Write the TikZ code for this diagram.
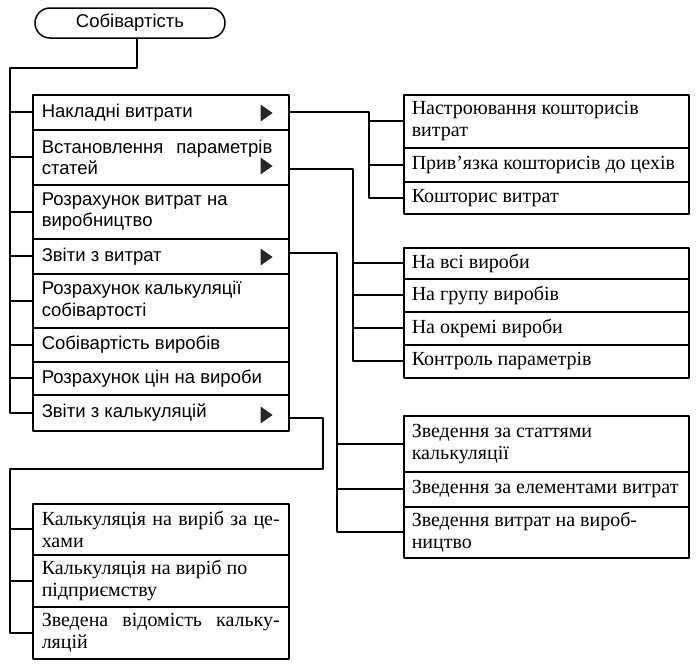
\documentclass[tikz,border=0pt]{standalone}
\usepackage{fontspec}
\setmainfont{Liberation Serif}
\setsansfont{Liberation Sans}
\usepackage{tikz}
\usetikzlibrary{shapes.geometric}

\begin{document}
\begin{tikzpicture}[line cap=round,line join=round,x=1pt,y=-1pt,
  box/.style={draw,line width=1.5pt,anchor=north west,inner xsep=9pt,inner ysep=0pt,align=justify},
  lbox/.style={box,text width=238pt,font=\sffamily\fontsize{18.5}{21.5}\selectfont},
  dbox/.style={box,text width=238pt,font=\fontsize{20}{22}\selectfont},
  rbox/.style={box,inner xsep=8pt,text width=269pt,font=\fontsize{20}{22}\selectfont},
  link/.style={line width=1.6pt},
  tri/.style={isosceles triangle,isosceles triangle apex angle=70,fill=black!85,inner sep=0pt,minimum height=12pt}]
\useasboundingbox (0,0) rectangle (699,667);
% top
\node[draw,line width=1.5pt,rounded corners=15pt,minimum width=190pt,minimum height=30pt,font=\sffamily\fontsize{18.5}{21.5}\selectfont] (T) at (130,23) {Собівартість};
% left menu
\node[lbox,minimum height=35pt] (L1) at (32,94) {Накладні витрати};
\node[lbox,minimum height=55pt] (L2) at (32,129) {Встановлення\hspace{8pt} параметрів\newline статей};
\node[lbox,minimum height=54pt] (L3) at (32,184) {Розрахунок витрат на\newline виробництво};
\node[lbox,minimum height=35pt] (L4) at (32,238) {Звіти з витрат};
\node[lbox,minimum height=54pt] (L5) at (32,273) {Розрахунок калькуляції\newline собівартості};
\node[lbox,minimum height=34pt] (L6) at (32,327) {Собівартість виробів};
\node[lbox,minimum height=33pt] (L7) at (32,361) {Розрахунок цін на вироби};
\node[lbox,minimum height=36pt] (L8) at (32,394) {Звіти з калькуляцій};
\node[tri] (t1) at (265,113) {};
\node[tri] (t2) at (265,166) {};
\node[tri] (t4) at (265,257) {};
\node[tri] (t8) at (265,415) {};
% right
\node[rbox,minimum height=53pt] (A1) at (403,94) {Настроювання кошторисів\newline витрат};
\node[rbox,minimum height=34pt] (A2) at (403,147) {Прив’язка кошторисів до цехів};
\node[rbox,minimum height=32pt] (A3) at (403,181) {Кошторис витрат};
\node[rbox,minimum height=31pt] (B1) at (403,247) {На всі вироби};
\node[rbox,minimum height=33pt] (B2) at (403,278) {На групу виробів};
\node[rbox,minimum height=33pt] (B3) at (403,311) {На окремі вироби};
\node[rbox,minimum height=33pt] (B4) at (403,344) {Контроль параметрів};
\node[rbox,minimum height=56pt] (C1) at (403,415) {Зведення за статтями\newline калькуляції};
\node[rbox,minimum height=35pt] (C2) at (403,471) {Зведення за елементами витрат};
\node[rbox,minimum height=51pt] (C3) at (403,506) {Зведення витрат на вироб-\newline ництво};
% bottom left
\node[dbox,minimum height=51pt] (D1) at (32,503) {Калькуляція на виріб за це-\linebreak хами};
\node[dbox,minimum height=52pt] (D2) at (32,554) {Калькуляція на виріб по\newline підприємству};
\node[dbox,minimum height=52pt] (D3) at (32,606) {Зведена відомість кальку-\linebreak ляцій};
% joints
\coordinate (jt) at (10,68);
\coordinate (ja) at (369,0);
\coordinate (jb) at (353,0);
\coordinate (jc) at (337,0);
\coordinate (jd) at (323,469);
\coordinate (je) at (10,469);
% links
\draw[link] ([xshift=7pt]T.south) |- (jt) |- (L8.west);
\foreach \n in {L1,L2,L3,L4,L5,L6,L7}
  \draw[link] (jt |- \n.west) -- (\n.west);
\draw[link] (L1.east) -| (ja |- A3.west) -- (A3.west);
\foreach \n in {A1,A2}
  \draw[link] (ja |- \n.west) -- (\n.west);
\draw[link] ([yshift=-11.5pt]L2.east) -| (jb |- B4.west) -- (B4.west);
\foreach \n in {B1,B2,B3}
  \draw[link] (jb |- \n.west) -- (\n.west);
\draw[link] ([yshift=3pt]L4.east) -| (jc |- C3.west) -- (C3.west);
\foreach \n in {C1,C2}
  \draw[link] (jc |- \n.west) -- (\n.west);
\draw[link] ([yshift=-5pt]L8.east) -| (jd) -- (je) |- (D3.west);
\foreach \n in {D1,D2}
  \draw[link] (je |- \n.west) -- (\n.west);
\end{tikzpicture}
\end{document}
